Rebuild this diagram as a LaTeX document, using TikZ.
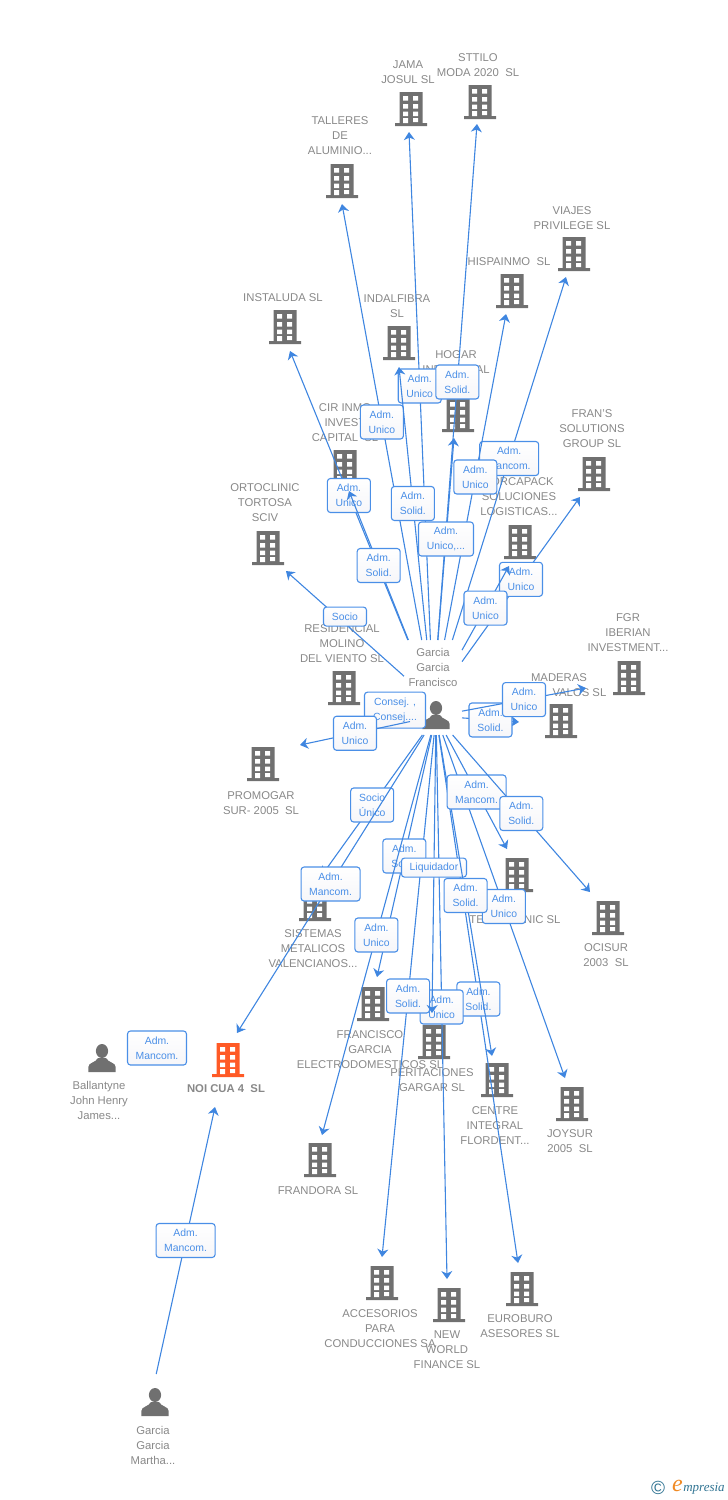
\documentclass[tikz,border=0pt]{standalone}
\usepackage{fontspec}
\setmainfont{Liberation Sans}
\newfontfamily\logofont{Liberation Serif}
\usetikzlibrary{arrows.meta}
\definecolor{icongray}{HTML}{707070}
\definecolor{textgray}{HTML}{888888}
\definecolor{linkblue}{HTML}{3F86E0}
\definecolor{tagblue}{HTML}{4A8FE7}
\definecolor{tagfill}{HTML}{F6F6F9}
\definecolor{noiorange}{HTML}{FF5A26}
\definecolor{logoteal}{HTML}{2F7392}
\definecolor{logoorange}{HTML}{F08A24}
\tikzset{
  firm/.style={text=textgray,font=\fontsize{11.3}{15}\selectfont,align=center,inner sep=0pt,yshift=-.7pt},
  link/.style={draw=linkblue,line width=1.1pt,-{Stealth[length=8pt,width=11pt,inset=2.5pt]}},
  tag/.style={draw=tagblue,line width=1.1pt,rounded corners=3pt,top color=white,bottom color=tagfill,
    text=tagblue,font=\fontsize{10.4}{15}\selectfont,align=center,inner sep=0pt,
    minimum width=43pt,minimum height=34pt},
  tagwide/.style={tag,minimum width=59pt},
  tagthin/.style={tag,minimum height=19pt},
  anchorbox/.style={rectangle,inner sep=0pt,outer sep=0pt},
  company/.pic={
    \fill (-11.5,-17) rectangle (11.5,15) (-16,14) rectangle (16,17);
    \foreach \winy in {-13,-5,2.5} {
      \fill[white] (-8,\winy) rectangle (-3,\winy+4.5) (2,\winy) rectangle (7,\winy+4.5);
    }
    \fill[white] (-8,9) rectangle (-3,14) (2,9) rectangle (7,13);
  },
  person/.pic={
    \fill (0,-7) ellipse (6.1 and 7);
    \fill (-13.7,14) -- (-13.7,9) .. controls (-13.7,4.5) and (-6,4.5) .. (-4,0) -- (4,0)
      .. controls (6,4.5) and (13.7,4.5) .. (13.7,9) -- (13.7,14) -- cycle;
  },
}
\begin{document}
\begin{tikzpicture}[x=1pt,y=-1pt]
  \useasboundingbox (0,0) rectangle (728,1500);

  \pic[icongray] at (411,109) {company};
  \pic[icongray] at (480,102) {company};
  \pic[icongray] at (342,181) {company};
  \pic[icongray] at (574,254) {company};
  \pic[icongray] at (512,291) {company};
  \pic[icongray] at (285,327) {company};
  \pic[icongray] at (399,343) {company};
  \pic[icongray] at (458,415) {company};
  \pic[icongray] at (345,467) {company};
  \pic[icongray] at (594,474) {company};
  \pic[icongray] at (520,542) {company};
  \pic[icongray] at (268,548) {company};
  \pic[icongray] at (344,688) {company};
  \pic[icongray] at (629,678) {company};
  \pic[icongray] at (561,721) {company};
  \pic[icongray] at (263,764) {company};
  \pic[icongray] at (517,875) {company};
  \pic[icongray] at (608,918) {company};
  \pic[icongray] at (315,904) {company};
  \pic[icongray] at (373,1004) {company};
  \pic[icongray] at (434,1042) {company};
  \pic[icongray] at (497,1080) {company};
  \pic[icongray] at (572,1104) {company};
  \pic[icongray] at (320,1160) {company};
  \pic[icongray] at (382,1283) {company};
  \pic[icongray] at (449,1305) {company};
  \pic[icongray] at (522,1289) {company};
  \pic[noiorange] at (228,1060) {company};
  \pic[icongray] at (436,715) {person};
  \pic[icongray] at (102,1058) {person};
  \pic[icongray] at (155,1402) {person};

  \node[firm] (jama) at (408,71) {JAMA\\JOSUL SL};
  \node[firm] (sttilo) at (478,64) {STTILO\\MODA 2020\ \ SL};
  \node[firm] (talleres) at (340,135) {TALLERES\\DE\\ALUMINIO...};
  \node[firm] (viajes) at (572,217) {VIAJES\\PRIVILEGE SL};
  \node[firm] (hispainmo) at (509,261) {HISPAINMO\ \ SL};
  \node[firm] (instaluda) at (283,297) {INSTALUDA SL};
  \node[firm] (indalfibra) at (397,305) {INDALFIBRA\\SL};
  \node[firm] (hogar) at (456,361.5) {HOGAR\\INDUSTRIAL};
  \node[firm] (cir) at (345,422) {CIR INMO\\INVEST\\CAPITAL\ \ SL};
  \node[firm] (frans) at (592,428) {FRAN'S\\SOLUTIONS\\GROUP SL};
  \node[firm] (forcapack) at (519,496) {FORCAPACK\\SOLUCIONES\\LOGISTICAS...};
  \node[firm] (ortoclinic) at (265,502) {ORTOCLINIC\\TORTOSA\\SCIV};
  \node[firm] (residencial) at (342,643) {RESIDENCIAL\\MOLINO\\DEL VIENTO SL};
  \node[firm] (fgr) at (628,632) {FGR\\IBERIAN\\INVESTMENT...};
  \node[firm] (maderas) at (559,684) {MADERAS\\\hphantom{MADER}VALOS SL};
  \node[firm] (promogar) at (261,802) {PROMOGAR\\SUR- 2005\ \ SL};
  \node[firm] (techtronic) at (515,911.5) {\hphantom{TO}P\\TECHTRONIC SL};
  \node[firm] (ocisur) at (606,954) {OCISUR\\2003\ \ SL};
  \node[firm] (sistemas) at (313,948) {SISTEMAS\\METALICOS\\VALENCIANOS...};
  \node[firm] (electro) at (370,1049) {FRANCISCO\\GARCIA\\ELECTRODOMESTICOS SL};
  \node[firm] (peritaciones) at (432,1079) {PERITACIONES\\GARGAR SL};
  \node[firm] (centre) at (495,1125) {CENTRE\\INTEGRAL\\FLORDENT...};
  \node[firm] (joysur) at (570,1140) {JOYSUR\\2005\ \ SL};
  \node[firm] (frandora) at (318,1190) {FRANDORA SL};
  \node[firm] (accesorios) at (380,1328) {ACCESORIOS\\PARA\\CONDUCCIONES SA};
  \node[firm] (newworld) at (447,1349) {NEW\\WORLD\\FINANCE SL};
  \node[firm] (euroburo) at (520,1325) {EUROBURO\\ASESORES SL};
  \node[firm,font=\fontsize{11.3}{15}\selectfont\bfseries] (noicua) at (226,1088) {NOI CUA 4\ \ SL};
  \node[firm] (francisco) at (433,667) {Garcia\\Garcia\\Francisco};
  \node[firm] (ballantyne) at (99,1100) {Ballantyne\\John Henry\\James...};
  \node[firm] (martha) at (153,1445) {Garcia\\Garcia\\Martha...};

  \node[anchorbox,minimum width=58pt,minimum height=124pt] (hubtop) at (433,702) {};
  \node[anchorbox,minimum width=52pt,minimum height=38pt] (hub) at (436,716) {};
  \node[anchorbox,minimum width=2pt,minimum height=2pt] (hubmartha) at (156,1375) {};

  \coordinate (tipjama) at (409,132);
  \coordinate (tipsttilo) at (477,124);
  \coordinate (tiptalleres) at (342,204);
  \coordinate (tipviajes) at (566,277);
  \coordinate (tiphispainmo) at (506,314);
  \coordinate (tipinstaluda) at (290,351);
  \coordinate (tipindalfibra) at (399,367);
  \coordinate (tiphogar) at (454,438);
  \coordinate (tipcir) at (349,491);
  \coordinate (tipfrans) at (580,497);
  \coordinate (tipforcapack) at (509,566);
  \coordinate (tiportoclinic) at (286,571);
  \coordinate (tipresidencial) at (380,708);
  \coordinate (tipfgr) at (586,688);
  \coordinate (tipmaderas) at (519,722);
  \coordinate (tippromogar) at (300,745);
  \coordinate (tiptechtronic) at (507,849);
  \coordinate (tipocisur) at (590,892);
  \coordinate (tipsistemas) at (322,875);
  \coordinate (tipelectro) at (377,977);
  \coordinate (tipperitaciones) at (432,1013);
  \coordinate (tipcentre) at (492,1056);
  \coordinate (tipjoysur) at (565,1078);
  \coordinate (tipfrandora) at (322,1135);
  \coordinate (tipaccesorios) at (382,1257);
  \coordinate (tipnewworld) at (447,1279);
  \coordinate (tipeuroburo) at (518,1263);
  \coordinate (tipnoi) at (237,1033);
  \coordinate (tipnoimartha) at (215,1107);
  \coordinate (startnoiball) at (137,1048);
  \coordinate (tipnoiball) at (177,1048);

  \draw[link] (hubtop) -- node[tag] (lbljama) {Adm.\\Unico} (tipjama);
  \draw[link] (hubtop) -- node[tag] (lblsttilo) {Adm.\\Solid.} (tipsttilo);
  \draw[link] (hubtop) -- node[tag] (lbltalleres) {Adm.\\Unico} (tiptalleres);
  \draw[link] (hubtop) -- node[tagwide] (lblviajes) {Adm.\\Mancom.} (tipviajes);
  \draw[link] (hubtop) -- node[tag] (lblhispainmo) {Adm.\\Unico} (tiphispainmo);
  \draw[link] (hubtop) -- node[tag] (lblindalfibra) {Adm.\\Solid.} (tipindalfibra);
  \draw[link] (hubtop) -- node[tag,minimum width=55pt] (lblhogar) {Adm.\\Unico,...} (tiphogar);
  \draw[link] (hubtop) -- node[tag] (lblinstaluda) {Adm.\\Unico} (tipinstaluda);
  \draw[link] (hubtop) -- node[tag] (lblcir) {Adm.\\Solid.} (tipcir);
  \draw[link] (hubtop) -- node[tagthin,yshift=7pt] (lblortoclinic) {Socio} (tiportoclinic);
  \draw[link] (hubtop) -- node[tag] (lblfrans) {Adm.\\Unico} (tipfrans);
  \draw[link] (hubtop) -- node[tag] (lblforcapack) {Adm.\\Unico} (tipforcapack);
  \draw[link] (hub) -- node[tag] (lblmaderas) {Adm.\\Solid.} (tipmaderas);
  \draw[link] (hub) -- node[tag] (lblfgr) {Adm.\\Unico} (tipfgr);

  \draw[link] (hub) -- node[tag] (lbljoysur) {Adm.\\Unico} (tipjoysur);
  \draw[link] (hub) -- node[tag] (lbleuroburo) {Adm.\\Solid.} (tipeuroburo);
  \draw[link] (hub) -- node[tag] (lblnewworld) {Adm.\\Unico} (tipnewworld);
  \draw[link] (hub) -- node[tag] (lblaccesorios) {Adm.\\Solid.} (tipaccesorios);
  \draw[link] (hub) -- node[tag] (lblelectro) {Adm.\\Solid.} (tipelectro);
  \draw[link] (hub) -- node[tagthin,minimum width=65pt,pos=.477] (lblperitaciones) {Liquidador} (tipperitaciones);
  \draw[link] (hub) -- node[tag] (lblcentre) {Adm.\\Solid.} (tipcentre);
  \draw[link] (hub) -- node[tagwide] (lbltechtronic) {Adm.\\Mancom.} (tiptechtronic);
  \draw[link] (hub) -- node[tag] (lblocisur) {Adm.\\Solid.} (tipocisur);
  \draw[link] (hub) -- node[tag] (lblfrandora) {Adm.\\Unico} (tipfrandora);
  \draw[link] (hub) -- node[tag] (lblsistemas) {Socio\\Único} (tipsistemas);
  \draw[link] (hub) -- node[tagwide] (lblnoi) {Adm.\\Mancom.} (tipnoi);
  \draw[link] (hub) -- node[tag,minimum width=61pt,minimum height=36pt] (lblresidencial) {Consej. ,\\Consej....} (tipresidencial);
  \draw[link] (hub) -- node[tag] (lblpromogar) {Adm.\\Unico} (tippromogar);

  \draw[link] (startnoiball) -- node[tagwide] (lblball) {Adm.\\Mancom.} (tipnoiball);
  \draw[link] (hubmartha) -- node[tagwide] (lblmartha) {Adm.\\Mancom.} (tipnoimartha);

  \node[text=logoteal,font=\fontsize{19}{19}\selectfont,inner sep=0pt] (logomark) at (658,1488) {©};
  \node[text=logoorange,font=\logofont\itshape\fontsize{24}{24}\selectfont,inner sep=0pt] (logoe) at (677.5,1486) {e};
  \node[text=logoteal,font=\logofont\itshape\fontsize{13}{13}\selectfont,inner sep=0pt] (logotext) at (704,1489) {mpresia};
\end{tikzpicture}
\end{document}
